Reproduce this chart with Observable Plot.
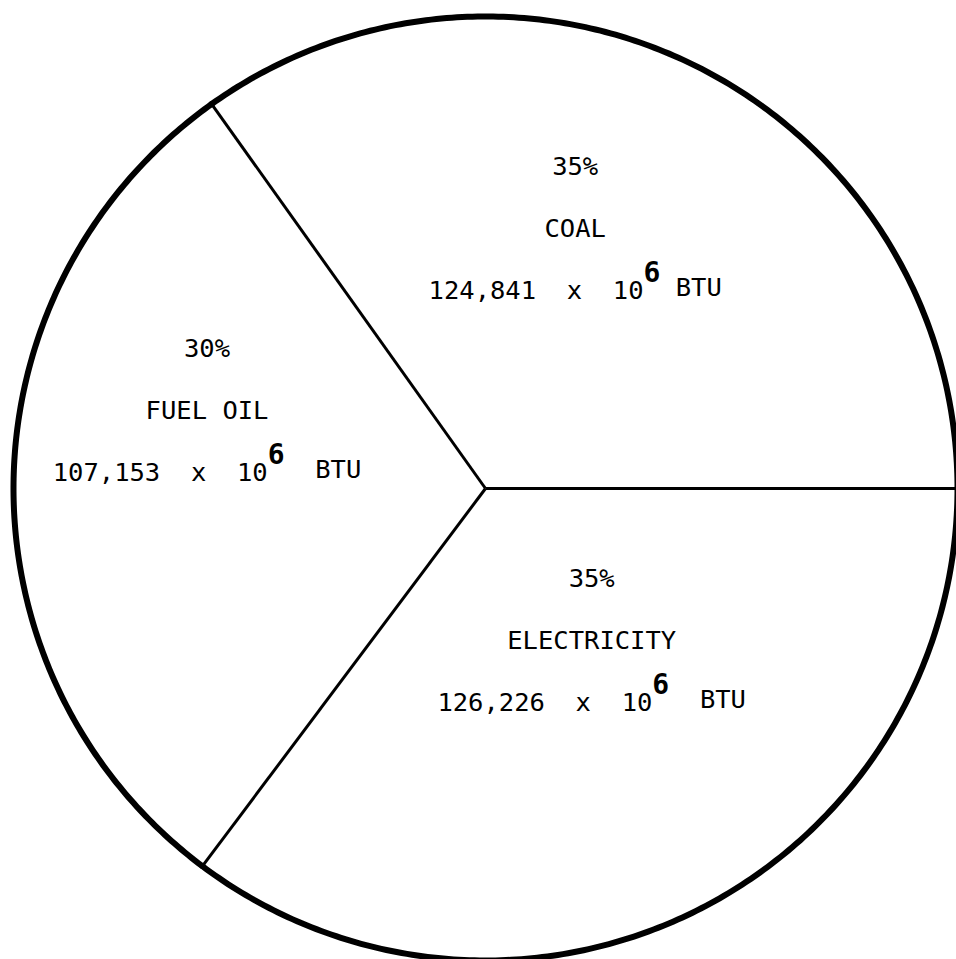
<!DOCTYPE html>
<html>
<head>
<meta charset="utf-8">
<script src="https://cdn.jsdelivr.net/npm/d3@7"></script>
<script src="https://cdn.jsdelivr.net/npm/@observablehq/plot@0.6"></script>
<style>
  html, body { margin: 0; padding: 0; background: #fff; }
  #chart svg { display: block; }
</style>
</head>
<body>
<div id="chart"></div>
<script>
// ---- data ----
const categories = ["COAL", "FUEL OIL", "ELECTRICITY"];
const btu = [124841, 107153, 126226];              // x 10^6 BTU
const percentLabels = ["35%", "30%", "35%"];
const amountLabels = ["124,841", "107,153", "126,226"];
const unitGap = [" ", "  ", "  "];
// label anchor positions (unit-circle coordinates)
const labelX = [0.19, -0.59, 0.225];
const labelY = [0.551, 0.165, -0.322];

// ---- pie geometry via d3.pie (angles counter-clockwise from 3 o'clock) ----
const slices = d3.pie().sort(null).value(d => d.value)(
  categories.map((c, i) => ({name: c, value: btu[i], i}))
);

const outline = slices.flatMap(s => {
  const n = 200;
  return d3.range(n + 1).map(k => {
    const a = s.startAngle + (s.endAngle - s.startAngle) * k / n;
    return {slice: s.data.name, x: Math.cos(a), y: Math.sin(a)};
  });
});
const boundaries = slices.map(s => ({
  name: s.data.name,
  x: Math.cos(s.startAngle),
  y: Math.sin(s.startAngle)
}));

const labels = categories.map((c, i) => ({
  name: c,
  pct: percentLabels[i],
  amount: `${amountLabels[i]}  x  10^6${unitGap[i]}BTU`,
  x: labelX[i],
  y: labelY[i]
}));

const font = "'DejaVu Sans Mono', 'Liberation Mono', monospace";

const chart = Plot.plot({
  width: 956,
  height: 959,
  margin: 0,
  x: {domain: [-1, 1], range: [13, 957], axis: null},
  y: {domain: [-1, 1], range: [960, 16], axis: null},
  style: {background: "white", fontFamily: font},
  marks: [
    Plot.link(boundaries, {x1: () => 0, y1: () => 0, x2: "x", y2: "y", stroke: "black", strokeWidth: 3}),
    Plot.line(outline, {x: "x", y: "y", z: "slice", stroke: "black", strokeWidth: 6, curve: "linear"}),
    Plot.text(labels, {x: "x", y: "y", text: "pct", dy: -62, fontSize: 25.5, fill: "black", fontFamily: font}),
    Plot.text(labels, {x: "x", y: "y", text: "name", dy: 0, fontSize: 25.5, fill: "black", fontFamily: font}),
    Plot.text(labels, {x: "x", y: "y", text: "amount", dy: 62, fontSize: 25.5, fill: "black", fontFamily: font})
  ]
});

// render "10^6" as a raised superscript
d3.select(chart).selectAll("text").each(function() {
  const t = this.textContent;
  if (!t.includes("^")) return;
  const m = t.match(/^(.*)\^(\d)(.*)$/);
  if (!m) return;
  const sel = d3.select(this);
  sel.text(null);
  sel.append("tspan").style("white-space", "pre").text(m[1]);
  sel.append("tspan").attr("dy", "-0.6em").attr("font-size", 28).attr("font-weight", "bold").text(m[2]);
  sel.append("tspan").attr("dy", "0.55em").style("white-space", "pre").text(m[3]);
});
d3.select(chart).selectAll("text").style("white-space", "pre");

document.getElementById("chart").appendChild(chart);
</script>
</body>
</html>
